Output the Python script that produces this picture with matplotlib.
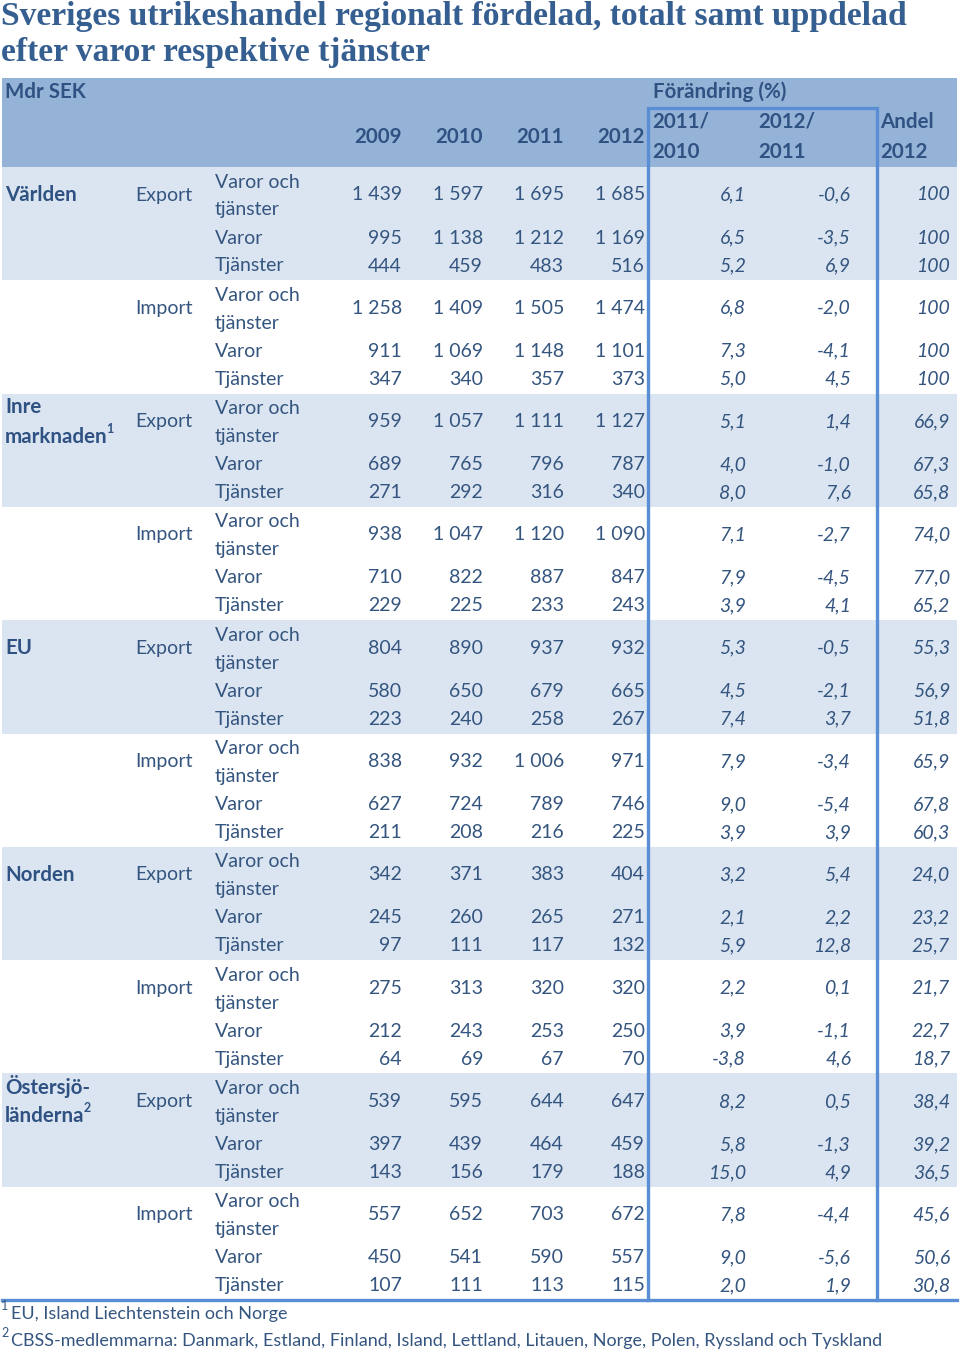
import matplotlib
matplotlib.use("Agg")
import matplotlib.pyplot as plt
from matplotlib.patches import Rectangle

# ---- data -------------------------------------------------------------
title = ["Sveriges utrikeshandel regionalt fördelad, totalt samt uppdelad",
         "efter varor respektive tjänster"]
regions = [["Världen"], ["Inre", "marknaden"], ["EU"], ["Norden"], ["Östersjö-", "länderna"]]
region_sup = [None, "1", None, None, "2"]
flows = ["Export", "Import"]
categories = [["Varor och", "tjänster"], ["Varor"], ["Tjänster"]]
years = ["2009", "2010", "2011", "2012"]

# per group: rows = (Varor och tjänster, Varor, Tjänster), cols = 2009..2012
levels = [
    [[1439, 1597, 1695, 1685], [995, 1138, 1212, 1169], [444, 459, 483, 516]],
    [[1258, 1409, 1505, 1474], [911, 1069, 1148, 1101], [347, 340, 357, 373]],
    [[959, 1057, 1111, 1127], [689, 765, 796, 787], [271, 292, 316, 340]],
    [[938, 1047, 1120, 1090], [710, 822, 887, 847], [229, 225, 233, 243]],
    [[804, 890, 937, 932], [580, 650, 679, 665], [223, 240, 258, 267]],
    [[838, 932, 1006, 971], [627, 724, 789, 746], [211, 208, 216, 225]],
    [[342, 371, 383, 404], [245, 260, 265, 271], [97, 111, 117, 132]],
    [[275, 313, 320, 320], [212, 243, 253, 250], [64, 69, 67, 70]],
    [[539, 595, 644, 647], [397, 439, 464, 459], [143, 156, 179, 188]],
    [[557, 652, 703, 672], [450, 541, 590, 557], [107, 111, 113, 115]],
]
chg_11_10 = [[6.1, 6.5, 5.2], [6.8, 7.3, 5.0], [5.1, 4.0, 8.0], [7.1, 7.9, 3.9],
             [5.3, 4.5, 7.4], [7.9, 9.0, 3.9], [3.2, 2.1, 5.9], [2.2, 3.9, -3.8],
             [8.2, 5.8, 15.0], [7.8, 9.0, 2.0]]
chg_12_11 = [[-0.6, -3.5, 6.9], [-2.0, -4.1, 4.5], [1.4, -1.0, 7.6], [-2.7, -4.5, 4.1],
             [-0.5, -2.1, 3.7], [-3.4, -5.4, 3.9], [5.4, 2.2, 12.8], [0.1, -1.1, 4.6],
             [0.5, -1.3, 4.9], [-4.4, -5.6, 1.9]]
andel = [[100, 100, 100], [100, 100, 100], [66.9, 67.3, 65.8], [74.0, 77.0, 65.2],
         [55.3, 56.9, 51.8], [65.9, 67.8, 60.3], [24.0, 23.2, 25.7], [21.7, 22.7, 18.7],
         [38.4, 39.2, 36.5], [45.6, 50.6, 30.8]]
footnotes = ["EU, Island Liechtenstein och Norge",
             "CBSS-medlemmarna: Danmark, Estland, Finland, Island, Lettland, Litauen, Norge, Polen, Ryssland och Tyskland"]

# ---- style ------------------------------------------------------------
plt.rcParams['font.family'] = ['Lato', 'DejaVu Sans']
TXT = "#34557f"
HEAD = "#2f5283"
BAND = "#dbe5f1"
HEADBG = "#95b3d7"
LINE = "#5a8ed4"
FS = 14
FSB = 14.8

def sv_int(v):
    return f"{v:,}".replace(",", " ")

def sv_dec(v):
    if v == 100:
        return "100"
    return f"{v:.1f}".replace(".", ",")

fig = plt.figure(figsize=(9.6, 13.57), dpi=100)
ax = fig.add_axes([0, 0, 1, 1])
ax.set_xlim(0, 960)
ax.set_ylim(1357, 0)
ax.axis("off")
renderer = fig.canvas.get_renderer()

def sup_after(t, s, dy=-8):
    bb = t.get_window_extent(renderer)
    x1 = ax.transData.inverted().transform((bb.x1, bb.y0))[0]
    y = t.get_position()[1]
    ax.text(x1 - 1, y + dy, s, fontsize=9, color=t.get_color(),
            fontweight=t.get_fontweight(), va="center", ha="left")

# title
for i, line in enumerate(title):
    ax.text(1, 17 + 36 * i, line, fontsize=24.2, fontweight="bold",
            family="Liberation Serif", color="#365f91", va="center", ha="left")

# header background
ax.add_patch(Rectangle((2, 78), 955, 89, color=HEADBG, lw=0))
ax.text(5, 92, "Mdr SEK", fontsize=FSB, fontweight="bold", color=HEAD, va="center")
ycols = [402, 483, 564, 645]
for x, yr in zip(ycols, years):
    ax.text(x, 137, yr, fontsize=FSB, fontweight="bold", color=HEAD, va="center", ha="right")
ax.text(653, 92, "Förändring (%)", fontsize=FSB, fontweight="bold", color=HEAD, va="center")
for x, (a, b) in zip([652, 758, 880], [("2011/", "2010"), ("2012/", "2011"), ("Andel", "2012")]):
    ax.text(x, 122, a, fontsize=FSB, fontweight="bold", color=HEAD, va="center")
    ax.text(x, 152, b, fontsize=FSB, fontweight="bold", color=HEAD, va="center")

# body
top = 167
gh = 113.3
for g in range(len(levels)):
    s = top + gh * g
    if g % 2 == 0:
        ax.add_patch(Rectangle((2, s), 955, gh, color=BAND, lw=0))
    r = g // 2
    if g % 2 == 0:
        lines = regions[r]
        if len(lines) == 1:
            ax.text(5, s + 28, lines[0], fontsize=FSB, fontweight="bold", color=HEAD, va="center")
        else:
            ax.text(5, s + 13, lines[0], fontsize=FSB, fontweight="bold", color=HEAD, va="center")
            t = ax.text(5, s + 43, lines[1], fontsize=FSB, fontweight="bold", color=HEAD, va="center")
            if region_sup[r]:
                sup_after(t, region_sup[r])
    ax.text(135, s + 28, flows[g % 2], fontsize=FS, color=TXT, va="center")
    rows_y = [s + 28, s + 71, s + 99]
    ax.text(215, s + 15, categories[0][0], fontsize=FS, color=TXT, va="center")
    ax.text(215, s + 43, categories[0][1], fontsize=FS, color=TXT, va="center")
    ax.text(215, rows_y[1], categories[1][0], fontsize=FS, color=TXT, va="center")
    ax.text(215, rows_y[2], categories[2][0], fontsize=FS, color=TXT, va="center")
    for k in range(3):
        for x, v in zip(ycols, levels[g][k]):
            ax.text(x, rows_y[k], sv_int(v), fontsize=FS, color=TXT, va="center", ha="right")
        ax.text(746, rows_y[k], sv_dec(chg_11_10[g][k]), fontsize=FS, style="italic",
                color=TXT, va="center", ha="right")
        ax.text(851, rows_y[k], sv_dec(chg_12_11[g][k]), fontsize=FS, style="italic",
                color=TXT, va="center", ha="right")
        ax.text(950, rows_y[k], sv_dec(andel[g][k]), fontsize=FS, style="italic",
                color=TXT, va="center", ha="right")

bottom = top + gh * len(levels)
# blue frame around change columns + bottom rule
ax.plot([648, 648, 877, 877], [bottom, 108, 108, bottom], color=LINE, lw=2.4,
        solid_joinstyle="miter")
ax.plot([2, 957], [bottom, bottom], color=LINE, lw=2.4)

# footnotes
for i, fn in enumerate(footnotes):
    y = 1314 + 27 * i
    ax.text(1, y - 8, str(i + 1), fontsize=9, color=TXT, va="center")
    ax.text(11, y, fn, fontsize=FS - 1, color=TXT, va="center")

fig.savefig("out.png", dpi=100)
